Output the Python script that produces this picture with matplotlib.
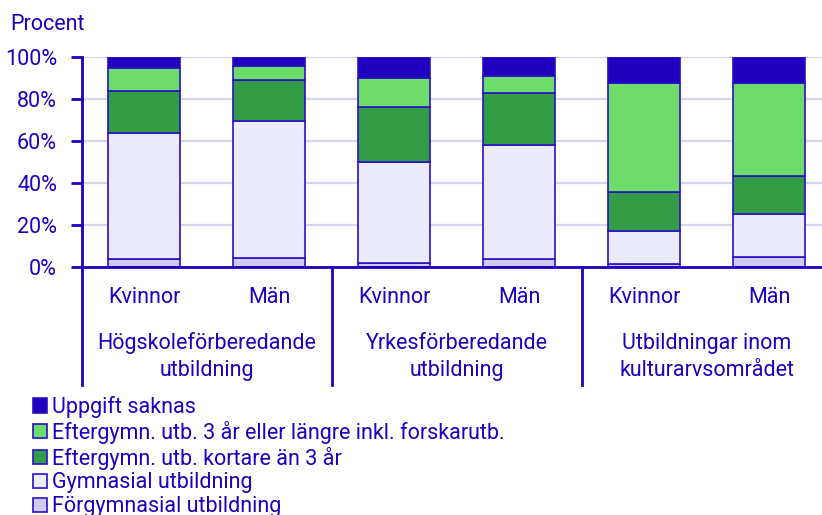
import numpy as np
import matplotlib.pyplot as plt
from matplotlib.patches import Patch

plt.rcParams['font.family'] = ['Roboto', 'DejaVu Sans']

# data (percent)
bar_labels = ['Kvinnor', 'Män', 'Kvinnor', 'Män', 'Kvinnor', 'Män']
groups = ['Högskoleförberedande\nutbildning', 'Yrkesförberedande\nutbildning',
          'Utbildningar inom\nkulturarvsområdet']
series = ['Förgymnasial utbildning', 'Gymnasial utbildning',
          'Eftergymn. utb. kortare än 3 år',
          'Eftergymn. utb. 3 år eller längre inkl. forskarutb.', 'Uppgift saknas']
forgymn = [3.5, 4.0, 1.9, 3.8, 1.3, 4.8]
gymn = [60.2, 65.8, 48.1, 54.5, 15.9, 20.4]
kort = [20.4, 19.4, 26.3, 24.7, 18.5, 18.1]
lang = [11.0, 6.8, 14.0, 8.0, 52.2, 44.3]
saknas = [4.9, 4.0, 9.7, 9.0, 12.1, 12.4]
yticks = [0, 20, 40, 60, 80, 100]

colors = ['#d0c9f0', '#ebebfd', '#339c46', '#6edc6a', '#1e00be']
txt = '#1e00be'
edge = '#2a10c4'
fs = 15.5

fig = plt.figure(figsize=(8.22, 5.15), dpi=100)
ax = fig.add_axes([82/822, 248.3/515, 740/822, 209.4/515])

x = np.arange(len(bar_labels))
bottom = np.zeros(len(x))
for vals, col, name in zip([forgymn, gymn, kort, lang, saknas], colors, series):
    ax.bar(x, vals, bottom=bottom, width=0.576, color=col, edgecolor=edge,
           linewidth=1.2, label=name, zorder=3)
    bottom += np.array(vals)

ax.set_xlim(-0.496, 5.424)
ax.set_ylim(0, 100)
ax.set_yticks(yticks)
ax.set_yticklabels([f'{t}%' for t in yticks])
ax.set_xticks([])
ax.grid(axis='y', color='#d6d6ee', linewidth=1.6, zorder=0)
ax.tick_params(axis='y', colors=txt, labelsize=fs, length=8, width=2, pad=10)
for s in ['top', 'right']:
    ax.spines[s].set_visible(False)
ax.spines['left'].set_color(txt)
ax.spines['left'].set_linewidth(2)
ax.spines['bottom'].set_color(txt)
ax.spines['bottom'].set_linewidth(2)
ax.spines['bottom'].set_zorder(4)

tr = ax.get_xaxis_transform()
for xi, lab in zip(x, bar_labels):
    ax.text(xi, -0.145, lab, transform=tr, ha='center', va='center',
            fontsize=fs, color=txt)
for g, lab in enumerate(groups):
    ax.text(2*g + 0.5, -0.43, lab, transform=tr, ha='center', va='center',
            fontsize=fs, color=txt, linespacing=1.4)
for xs in [-0.496, 1.5, 3.5]:
    ax.plot([xs, xs], [0, -0.565], transform=tr, color=txt, lw=2, clip_on=False)

fig.text(10/822, 1 - 25/515, 'Procent', fontsize=fs, color=txt, va='center')

handles = [Patch(facecolor=c, edgecolor=edge, linewidth=1.2) for c in colors][::-1]
leg = fig.legend(handles, series[::-1], loc='upper left',
                 bbox_to_anchor=(33/822, 1 - 396/515), frameon=False,
                 fontsize=fs, handlelength=0.64, handleheight=0.64,
                 handletextpad=0.25, labelspacing=0.13, borderpad=0,
                 borderaxespad=0)
for t in leg.get_texts():
    t.set_color(txt)

fig.savefig('out.png', dpi=100)
